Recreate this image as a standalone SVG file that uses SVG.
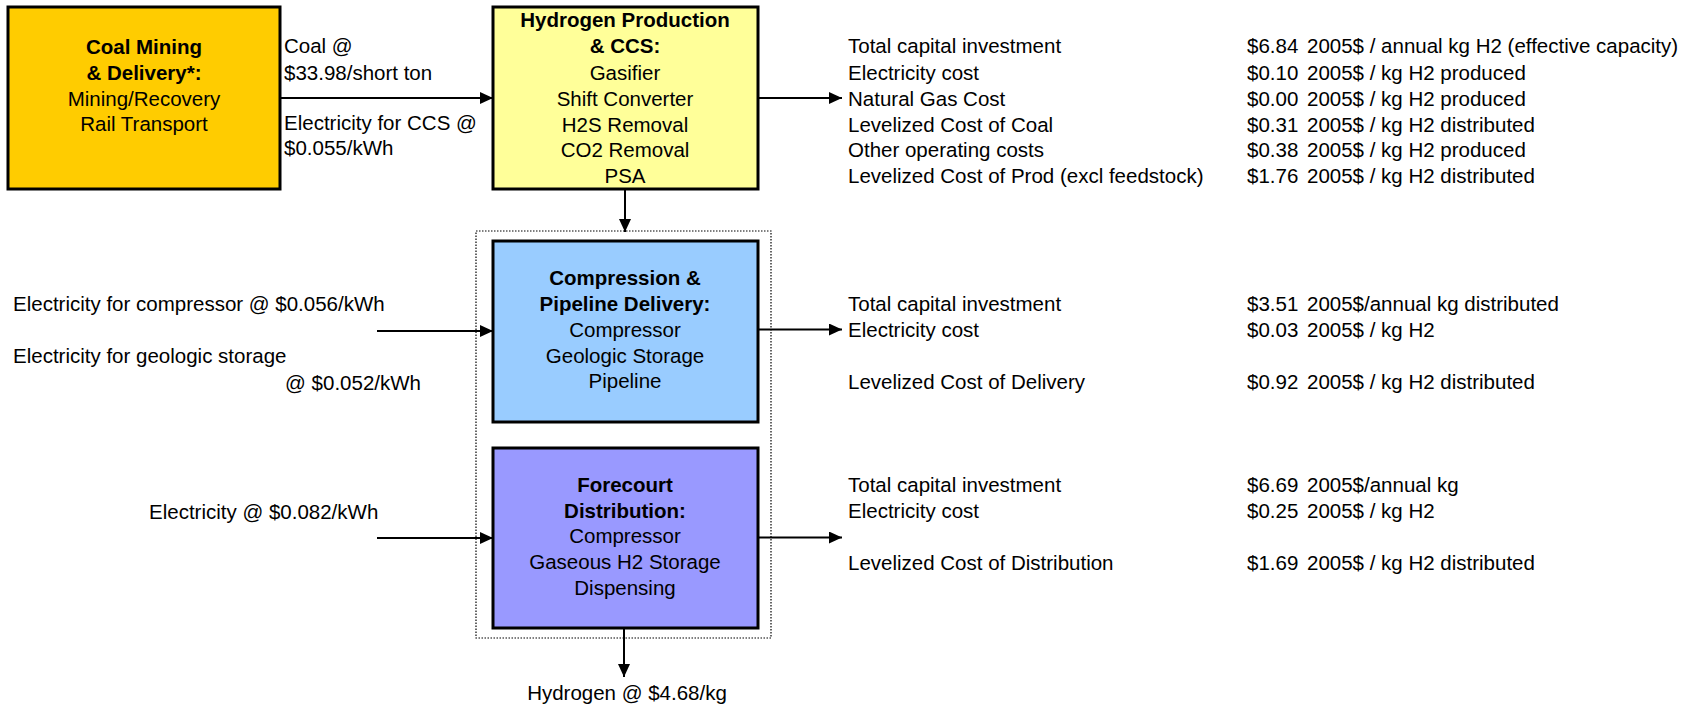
<svg xmlns="http://www.w3.org/2000/svg" width="1698" height="707" viewBox="0 0 1698 707">
<style>
text{font-family:"Liberation Sans",Arial,sans-serif;font-size:20.5px;fill:#000}
.b{font-weight:bold}
.c{text-anchor:middle}
.e{text-anchor:end}
.box{stroke:#000;stroke-width:3}
.ln{stroke:#000;stroke-width:2;fill:none}
</style>
<defs>
<marker id="ah" markerUnits="userSpaceOnUse" markerWidth="14" markerHeight="12" refX="13" refY="6" orient="auto">
<path d="M0,0 L13,6 L0,12 z" fill="#000"/>
</marker>
</defs>
<rect width="1698" height="707" fill="#fff"/>

<g id="group-box">
<rect x="476" y="231" width="295" height="407" fill="none" stroke="#000" stroke-width="1.2" stroke-dasharray="1.5,1.5"/>
</g>

<g id="coal">
<rect class="box" x="8" y="7" width="272" height="182" fill="#FFCC00"/>
<text class="c b" x="144" y="54">Coal Mining</text>
<text class="c b" x="144" y="80">&amp; Delivery*:</text>
<text class="c" x="144" y="106">Mining/Recovery</text>
<text class="c" x="144" y="131">Rail Transport</text>
</g>

<g id="production">
<rect class="box" x="493" y="7" width="265" height="182" fill="#FFFF99"/>
<text class="c b" x="625" y="27">Hydrogen Production</text>
<text class="c b" x="625" y="53">&amp; CCS:</text>
<text class="c" x="625" y="80">Gasifier</text>
<text class="c" x="625" y="106">Shift Converter</text>
<text class="c" x="625" y="132">H2S Removal</text>
<text class="c" x="625" y="157">CO2 Removal</text>
<text class="c" x="625" y="183">PSA</text>
</g>

<g id="delivery">
<rect class="box" x="493" y="241" width="265" height="181" fill="#99CCFF"/>
<text class="c b" x="625" y="285">Compression &amp;</text>
<text class="c b" x="625" y="311">Pipeline Delivery:</text>
<text class="c" x="625" y="337">Compressor</text>
<text class="c" x="625" y="363">Geologic Storage</text>
<text class="c" x="625" y="388">Pipeline</text>
</g>

<g id="forecourt">
<rect class="box" x="493" y="448" width="265" height="180" fill="#9999FF"/>
<text class="c b" x="625" y="492">Forecourt</text>
<text class="c b" x="625" y="518">Distribution:</text>
<text class="c" x="625" y="543">Compressor</text>
<text class="c" x="625" y="569">Gaseous H2 Storage</text>
<text class="c" x="625" y="595">Dispensing</text>
</g>

<g id="connectors">
<line class="ln" x1="280" y1="98" x2="493" y2="98" marker-end="url(#ah)"/>
<line class="ln" x1="758" y1="98" x2="842" y2="98" marker-end="url(#ah)"/>
<line class="ln" x1="625" y1="189" x2="625" y2="232" marker-end="url(#ah)"/>
<line class="ln" x1="377" y1="331" x2="493" y2="331" marker-end="url(#ah)"/>
<line class="ln" x1="758" y1="329.5" x2="842" y2="329.5" marker-end="url(#ah)"/>
<line class="ln" x1="377" y1="538" x2="493" y2="538" marker-end="url(#ah)"/>
<line class="ln" x1="758" y1="537.5" x2="842" y2="537.5" marker-end="url(#ah)"/>
<line class="ln" x1="624" y1="628" x2="624" y2="677" marker-end="url(#ah)"/>
</g>

<g id="input-labels">
<text x="284" y="53">Coal @</text>
<text x="284" y="80">$33.98/short ton</text>
<text x="284" y="130">Electricity for CCS @</text>
<text x="284" y="155">$0.055/kWh</text>
<text x="13" y="311">Electricity for compressor @ $0.056/kWh</text>
<text x="13" y="363">Electricity for geologic storage</text>
<text class="e" x="421" y="390">@ $0.052/kWh</text>
<text x="149" y="519">Electricity @ $0.082/kWh</text>
<text class="c" x="627" y="700">Hydrogen @ $4.68/kg</text>
</g>

<g id="production-costs">
<text x="848" y="53">Total capital investment</text>
<text x="848" y="80">Electricity cost</text>
<text x="848" y="106">Natural Gas Cost</text>
<text x="848" y="132">Levelized Cost of Coal</text>
<text x="848" y="157">Other operating costs</text>
<text x="848" y="183">Levelized Cost of Prod (excl feedstock)</text>
<text x="1247" y="53">$6.84</text><text x="1307" y="53">2005$ / annual kg H2 (effective capacity)</text>
<text x="1247" y="80">$0.10</text><text x="1307" y="80">2005$ / kg H2 produced</text>
<text x="1247" y="106">$0.00</text><text x="1307" y="106">2005$ / kg H2 produced</text>
<text x="1247" y="132">$0.31</text><text x="1307" y="132">2005$ / kg H2 distributed</text>
<text x="1247" y="157">$0.38</text><text x="1307" y="157">2005$ / kg H2 produced</text>
<text x="1247" y="183">$1.76</text><text x="1307" y="183">2005$ / kg H2 distributed</text>
</g>

<g id="delivery-costs">
<text x="848" y="311">Total capital investment</text>
<text x="848" y="337">Electricity cost</text>
<text x="848" y="389">Levelized Cost of Delivery</text>
<text x="1247" y="311">$3.51</text><text x="1307" y="311">2005$/annual kg distributed</text>
<text x="1247" y="337">$0.03</text><text x="1307" y="337">2005$ / kg H2</text>
<text x="1247" y="389">$0.92</text><text x="1307" y="389">2005$ / kg H2 distributed</text>
</g>

<g id="forecourt-costs">
<text x="848" y="492">Total capital investment</text>
<text x="848" y="518">Electricity cost</text>
<text x="848" y="570">Levelized Cost of Distribution</text>
<text x="1247" y="492">$6.69</text><text x="1307" y="492">2005$/annual kg</text>
<text x="1247" y="518">$0.25</text><text x="1307" y="518">2005$ / kg H2</text>
<text x="1247" y="570">$1.69</text><text x="1307" y="570">2005$ / kg H2 distributed</text>
</g>
</svg>
